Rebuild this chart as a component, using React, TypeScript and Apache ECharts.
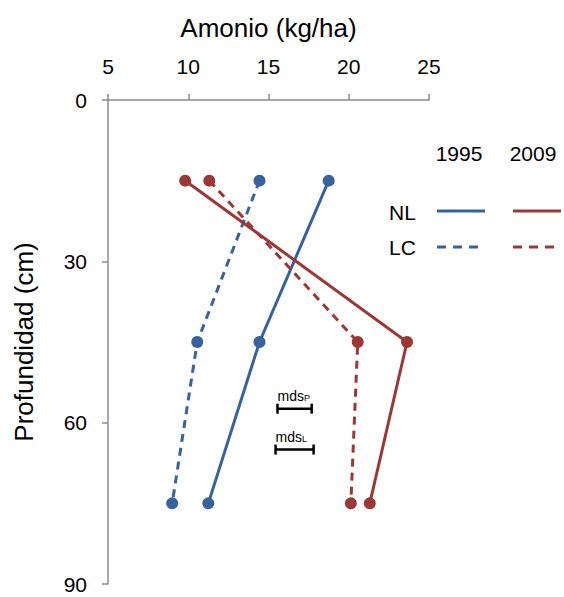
import React, { useEffect, useRef } from "react";
import * as echarts from "echarts";

const depths = [15, 45, 75];
const nl1995 = [18.75, 14.44, 11.25];
const lc1995 = [14.44, 10.56, 9.0];
const nl2009 = [9.81, 23.63, 21.31];
const lc2009 = [11.31, 20.56, 20.13];
const xTicks = [5, 10, 15, 20, 25];
const yTicks = [0, 30, 60, 90];
// [xStart, xEnd, depth, label subscript]
const mdsBars: [number, number, number, string][] = [
  [15.56, 17.69, 57.4, "P"],
  [15.44, 17.81, 65.0, "L"],
];

const BLUE = "#36639b";
const RED = "#9b3835";
const FONT = "'Liberation Sans', Arial, sans-serif";

function pairs(xs: number[]) {
  return xs.map((x, i) => [x, depths[i]]);
}

function lineSeries(name: string, values: number[], color: string, dashed: boolean) {
  return {
    name,
    type: "line",
    data: pairs(values),
    symbol: "circle",
    symbolSize: 12,
    itemStyle: { color },
    lineStyle: { color, width: 3, type: dashed ? [8, 6] : "solid" },
    z: 3,
  };
}

export default function App() {
  const ref = useRef<HTMLDivElement>(null);
  useEffect(() => {
    if (!ref.current) return;
    const chart = echarts.init(ref.current, null, { renderer: "svg" });
    const legendLine = (x1: number, x2: number, y: number, color: string, dashed: boolean) => ({
      type: "line",
      shape: { x1, y1: y, x2, y2: y },
      style: { stroke: color, lineWidth: 3, lineDash: dashed ? [9, 7] : null },
    });
    const legendText = (text: string, x: number, y: number, align: string) => ({
      type: "text",
      x,
      y,
      style: {
        text,
        fontSize: 21,
        fontFamily: FONT,
        fill: "#000",
        align,
        verticalAlign: "middle",
      },
    });
    chart.setOption({
      animation: false,
      backgroundColor: "#fff",
      grid: { left: 108, top: 100, right: 135, bottom: 13 },
      xAxis: {
        type: "value",
        position: "top",
        min: xTicks[0],
        max: xTicks[xTicks.length - 1],
        interval: 5,
        name: "Amonio (kg/ha)",
        nameLocation: "middle",
        nameGap: 59,
        nameTextStyle: { fontSize: 26, fontFamily: FONT, color: "#000" },
        axisLine: { show: true, lineStyle: { color: "#8c8c8c", width: 1.5 } },
        axisTick: { show: true, length: 6, lineStyle: { color: "#8c8c8c", width: 1.5 } },
        axisLabel: { fontSize: 21, fontFamily: FONT, color: "#000", margin: 23 },
        splitLine: { show: false },
      },
      yAxis: {
        type: "value",
        inverse: true,
        min: yTicks[0],
        max: yTicks[yTicks.length - 1],
        interval: 30,
        name: "Profundidad (cm)",
        nameLocation: "middle",
        nameGap: 71,
        nameRotate: 90,
        nameTextStyle: { fontSize: 26, fontFamily: FONT, color: "#000" },
        axisLine: { show: true, onZero: false, lineStyle: { color: "#8c8c8c", width: 1.5 } },
        axisTick: { show: true, length: 6, lineStyle: { color: "#8c8c8c", width: 1.5 } },
        axisLabel: { fontSize: 21, fontFamily: FONT, color: "#000", margin: 21 },
        splitLine: { show: false },
      },
      series: [
        lineSeries("NL 1995", nl1995, BLUE, false),
        lineSeries("LC 1995", lc1995, BLUE, true),
        lineSeries("NL 2009", nl2009, RED, false),
        lineSeries("LC 2009", lc2009, RED, true),
        {
          type: "custom",
          data: mdsBars.map((b) => [b[0], b[1], b[2]]),
          renderItem: (params: any, api: any) => {
            const idx = params.dataIndex;
            const p1 = api.coord([api.value(0), api.value(2)]);
            const p2 = api.coord([api.value(1), api.value(2)]);
            const sub = mdsBars[idx][3];
            const stroke = { stroke: "#000", lineWidth: 2.5 };
            return {
              type: "group",
              children: [
                { type: "line", shape: { x1: p1[0], y1: p1[1], x2: p2[0], y2: p2[1] }, style: stroke },
                { type: "line", shape: { x1: p1[0], y1: p1[1] - 5, x2: p1[0], y2: p1[1] + 5 }, style: stroke },
                { type: "line", shape: { x1: p2[0], y1: p2[1] - 5, x2: p2[0], y2: p2[1] + 5 }, style: stroke },
                {
                  type: "text",
                  x: p1[0],
                  y: p1[1] - 6,
                  style: {
                    text: "{m|mds}{s|" + sub + "}",
                    align: "left",
                    verticalAlign: "bottom",
                    rich: {
                      m: { fontSize: 14, fontFamily: FONT, fill: "#000", color: "#000", lineHeight: 16, verticalAlign: "bottom" },
                      s: { fontSize: 9, fontFamily: FONT, fill: "#000", color: "#000", lineHeight: 13, verticalAlign: "bottom" },
                    },
                  },
                },
              ],
            };
          },
          z: 4,
        },
      ],
      graphic: [
        legendText("1995", 459, 153, "center"),
        legendText("2009", 533, 153, "center"),
        legendText("NL", 389, 212, "left"),
        legendText("LC", 389, 247, "left"),
        legendLine(437, 485, 211, BLUE, false),
        legendLine(513, 561, 211, RED, false),
        legendLine(437, 485, 247, BLUE, true),
        legendLine(513, 561, 247, RED, true),
      ],
    });
    return () => chart.dispose();
  }, []);
  return <div ref={ref} style={{ width: 564, height: 597, position: "absolute", left: 0, top: 0 }} />;
}
